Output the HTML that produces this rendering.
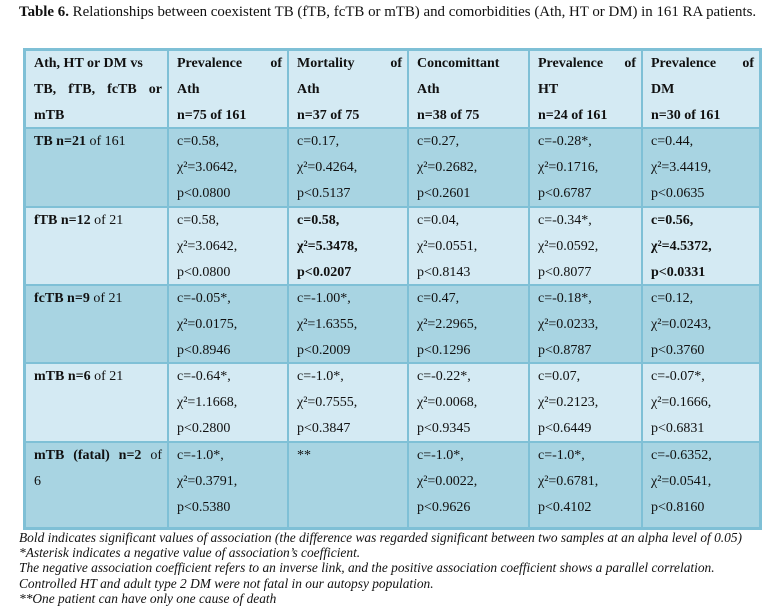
<!DOCTYPE html>
<html><head><meta charset="utf-8"><style>
body{margin:0;background:#fff;width:775px;height:608px;position:relative;font-family:"Liberation Serif",serif;color:#111;overflow:hidden}
.t{position:absolute;left:19px;top:4px;font-size:14.9px;white-space:nowrap}
.box{position:absolute;left:23px;top:48px;width:739px;height:482px;background:#7fc0d6}
.c{position:absolute;box-sizing:border-box;padding:0 5px 0 8px;font-size:14px;line-height:25.8px;overflow:hidden}
.l{background:#d4eaf3}.d{background:#a8d4e2}
b{font-weight:bold}
.f{position:absolute;left:19px;top:530px;font-size:13.4px;font-style:italic;line-height:15.2px;white-space:nowrap}
</style></head><body>
<div class="t"><b>Table 6.</b> Relationships between coexistent TB (fTB, fcTB or mTB) and comorbidities (Ath, HT or DM) in 161 RA patients.</div>
<div class="box"></div>
<div id="g"></div>
<div class="f">Bold indicates significant values of association (the difference was regarded significant between two samples at an alpha level of 0.05)<br>*Asterisk indicates a negative value of association’s coefficient.<br>The negative association coefficient refers to an inverse link, and the positive association coefficient shows a parallel correlation.<br>Controlled HT and adult type 2 DM were not fatal in our autopsy population.<br>**One patient can have only one cause of death</div>
<script>
var xs=[26,169,289,409,530,643,759];
var ys=[51,129,208,286,364,443,527];
var J="<span style='display:block;text-align:justify;text-align-last:justify'>";
var data=[
["<b>Ath, HT or DM vs<br>"+J+"TB, fTB, fcTB or</span>mTB</b>","<b>"+J+"Prevalence of</span>Ath<br>n=75 of 161</b>","<b>"+J+"Mortality of</span>Ath<br>n=37 of 75</b>","<b>Concomittant<br>Ath<br>n=38 of 75</b>","<b>"+J+"Prevalence of</span>HT<br>n=24 of 161</b>","<b>"+J+"Prevalence of</span>DM<br>n=30 of 161</b>"],
["<b>TB n=21</b> of 161","c=0.58,<br>χ²=3.0642,<br>p&lt;0.0800","c=0.17,<br>χ²=0.4264,<br>p&lt;0.5137","c=0.27,<br>χ²=0.2682,<br>p&lt;0.2601","c=-0.28*,<br>χ²=0.1716,<br>p&lt;0.6787","c=0.44,<br>χ²=3.4419,<br>p&lt;0.0635"],
["<b>fTB n=12</b> of 21","c=0.58,<br>χ²=3.0642,<br>p&lt;0.0800","<b>c=0.58,<br>χ²=5.3478,<br>p&lt;0.0207</b>","c=0.04,<br>χ²=0.0551,<br>p&lt;0.8143","c=-0.34*,<br>χ²=0.0592,<br>p&lt;0.8077","<b>c=0.56,<br>χ²=4.5372,<br>p&lt;0.0331</b>"],
["<b>fcTB n=9</b> of 21","c=-0.05*,<br>χ²=0.0175,<br>p&lt;0.8946","c=-1.00*,<br>χ²=1.6355,<br>p&lt;0.2009","c=0.47,<br>χ²=2.2965,<br>p&lt;0.1296","c=-0.18*,<br>χ²=0.0233,<br>p&lt;0.8787","c=0.12,<br>χ²=0.0243,<br>p&lt;0.3760"],
["<b>mTB n=6</b> of 21","c=-0.64*,<br>χ²=1.1668,<br>p&lt;0.2800","c=-1.0*,<br>χ²=0.7555,<br>p&lt;0.3847","c=-0.22*,<br>χ²=0.0068,<br>p&lt;0.9345","c=0.07,<br>χ²=0.2123,<br>p&lt;0.6449","c=-0.07*,<br>χ²=0.1666,<br>p&lt;0.6831"],
[J+"<b>mTB (fatal) n=2</b> of</span>6","c=-1.0*,<br>χ²=0.3791,<br>p&lt;0.5380","**","c=-1.0*,<br>χ²=0.0022,<br>p&lt;0.9626","c=-1.0*,<br>χ²=0.6781,<br>p&lt;0.4102","c=-0.6352,<br>χ²=0.0541,<br>p&lt;0.8160"]];
var h="";
for(var r=0;r<6;r++)for(var c=0;c<6;c++){
var x=xs[c],y=ys[r],w=xs[c+1]-x-(c<5?2:0),hh=ys[r+1]-y-(r<5?2:0);
h+="<div class='c "+(r%2?"d":"l")+"' style='left:"+x+"px;top:"+y+"px;width:"+w+"px;height:"+hh+"px'>"+data[r][c]+"</div>";}
document.getElementById("g").innerHTML=h;
</script>
</body></html>
